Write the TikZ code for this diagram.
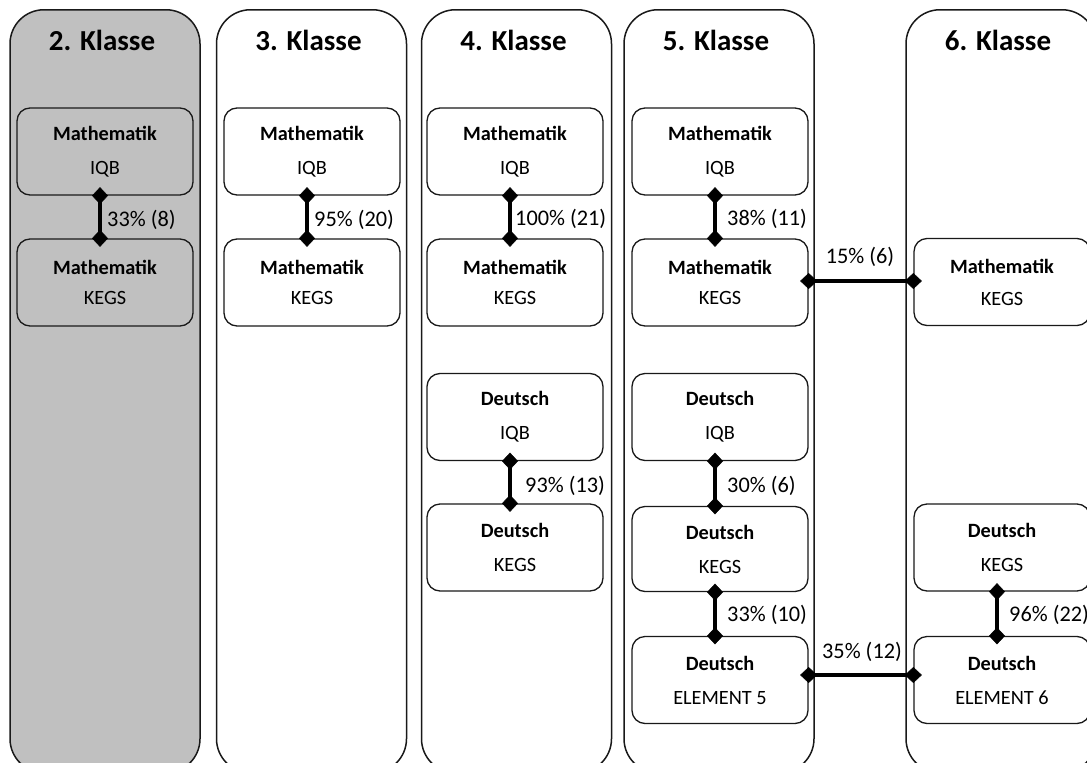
\documentclass[tikz,border=0pt]{standalone}
\usepackage{fontspec}
\setmainfont{Carlito}
\usetikzlibrary{arrows.meta}
\definecolor{colgray}{RGB}{192,192,192}
\definecolor{edgec}{RGB}{25,25,25}
\begin{document}
\begin{tikzpicture}[x=1pt,y=-1pt,
  colbox/.style={draw=edgec, line width=1.5pt, rounded corners=34pt, minimum width=190pt, minimum height=763pt, inner sep=0pt, anchor=north},
  coltitle/.style={font=\fontsize{29}{32}\selectfont\bfseries, inner sep=0pt},
  subj/.style={draw=edgec, line width=1.3pt, rounded corners=13pt, minimum width=176pt, minimum height=87pt, inner sep=0pt, align=center, font=\fontsize{20.3}{24}\selectfont},
  pct/.style={font=\fontsize{22.3}{25}\selectfont, inner sep=0pt},
  conn/.style={line width=4pt, {Diamond[length=17pt,width=16pt,line width=0.5pt]}-{Diamond[length=17pt,width=16pt,line width=0.5pt]}, shorten <=-8.5pt, shorten >=-8.5pt}
]
\useasboundingbox (0,0) rectangle (1087,763);
\clip (0,0) rectangle (1087,763);
\fill[white] (0,0) rectangle (1087,763);

% columns
\node[colbox, fill=colgray] (c2) at (105,9) {};
\node[colbox] (c3) at (311.5,9) {};
\node[colbox] (c4) at (516.5,9) {};
\node[colbox] (c5) at (719,9) {};
\node[colbox] (c6) at (1001,9) {};

% titles
\node[coltitle] (t2) at (102,40) {2. Klasse};
\node[coltitle] (t3) at (308.5,40) {3. Klasse};
\node[coltitle] (t4) at (513.5,40) {4. Klasse};
\node[coltitle] (t5) at (716,40) {5. Klasse};
\node[coltitle] (t6) at (998,40) {6. Klasse};

% boxes
\node[subj, fill=colgray] (m2a) at (105,151.5) {\textbf{Mathematik}\\[10pt]IQB};
\node[subj, fill=colgray] (m2b) at (105,282.5) {\textbf{Mathematik}\\[6pt]KEGS};
\node[subj] (m3a) at (312,151.5) {\textbf{Mathematik}\\[10pt]IQB};
\node[subj] (m3b) at (312,282.5) {\textbf{Mathematik}\\[6pt]KEGS};
\node[subj] (m4a) at (515,151.5) {\textbf{Mathematik}\\[10pt]IQB};
\node[subj] (m4b) at (515,282.5) {\textbf{Mathematik}\\[6pt]KEGS};
\node[subj] (d4a) at (515,417) {\textbf{Deutsch}\\[10pt]IQB};
\node[subj] (d4b) at (515,547.5) {\textbf{Deutsch}\\[10pt]KEGS};
\node[subj] (m5a) at (720,151.5) {\textbf{Mathematik}\\[10pt]IQB};
\node[subj] (m5b) at (720,282.5) {\textbf{Mathematik}\\[6pt]KEGS};
\node[subj] (d5a) at (720,417) {\textbf{Deutsch}\\[10pt]IQB};
\node[subj, minimum height=85pt] (d5b) at (720,549) {\textbf{Deutsch}\\[10pt]KEGS};
\node[subj] (e5) at (720,680) {\textbf{Deutsch}\\[10pt]ELEMENT 5};
\node[subj] (m6b) at (1002,282) {\textbf{Mathematik}\\[8pt]KEGS};
\node[subj] (d6b) at (1002,547.5) {\textbf{Deutsch}\\[10pt]KEGS};
\node[subj] (e6) at (1002,680) {\textbf{Deutsch}\\[10pt]ELEMENT 6};

% vertical connectors
\draw[conn] ([xshift=-5pt]m2a.south) -- ([xshift=-5pt]m2b.north);
\draw[conn] ([xshift=-5pt]m3a.south) -- ([xshift=-5pt]m3b.north);
\draw[conn] ([xshift=-5pt]m4a.south) -- ([xshift=-5pt]m4b.north);
\draw[conn] ([xshift=-5pt]d4a.south) -- ([xshift=-5pt]d4b.north);
\draw[conn] ([xshift=-5pt]m5a.south) -- ([xshift=-5pt]m5b.north);
\draw[conn] ([xshift=-5pt]d5a.south) -- ([xshift=-5pt]d5b.north);
\draw[conn] ([xshift=-5pt]d5b.south) -- ([xshift=-5pt]e5.north);
\draw[conn] ([xshift=-5pt]d6b.south) -- ([xshift=-5pt]e6.north);

% horizontal connectors
\draw[conn] ([yshift=1.5pt]m5b.east) -- ([yshift=1pt]m6b.west);
\draw[conn] ([yshift=5pt]e5.east) -- ([yshift=5pt]e6.west);

% labels
\node[pct, anchor=west] (l2) at (107,220) {33\% (8)};
\node[pct, anchor=west] (l3) at (314,220) {95\% (20)};
\node[pct, anchor=west] (l4) at (515,219) {100\% (21)};
\node[pct, anchor=west] (l5) at (727,219) {38\% (11)};
\node[pct, anchor=west] (l4d) at (525,486) {93\% (13)};
\node[pct, anchor=west] (l5d) at (727,486) {30\% (6)};
\node[pct, anchor=west] (l5e) at (727,615) {33\% (10)};
\node[pct, anchor=west] (l6) at (1009,615) {96\% (22)};
\node[pct] (h1) at (860,257) {15\% (6)};
\node[pct] (h2) at (862,652) {35\% (12)};
\end{tikzpicture}
\end{document}
